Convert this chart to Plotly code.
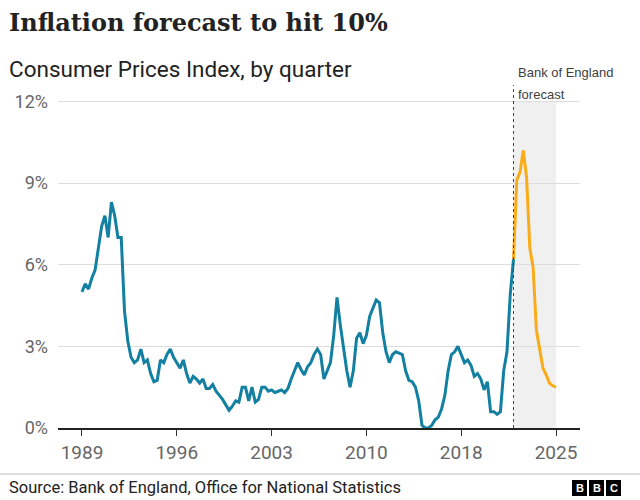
import plotly.graph_objects as go

# ---------------- data ----------------
start_year = 1989  # first quarter = 1989 Q1
cpi_actual = [
    5.0, 5.3, 5.1, 5.5, 5.8, 6.6, 7.4, 7.8, 7.0, 8.3, 7.8, 7.0, 7.0,
    4.3, 3.2, 2.6, 2.4, 2.5, 2.9, 2.4, 2.5, 2.0, 1.7, 1.75, 2.5, 2.4, 2.7, 2.9, 2.6, 2.4, 2.2, 2.5,
    2.0, 1.65, 1.9, 1.8, 1.65, 1.8, 1.45, 1.45, 1.6, 1.35, 1.2, 1.05, 0.85, 0.65, 0.8, 1.0,
    0.95, 1.5, 1.5, 1.0, 1.5, 0.95, 1.05, 1.5, 1.5, 1.35, 1.4, 1.3,
    1.35, 1.4, 1.3, 1.45,
    1.8, 2.1, 2.4, 2.15, 1.95, 2.25, 2.4, 2.7, 2.9, 2.7, 1.8, 2.1,
    2.4, 3.4, 4.8, 3.8, 2.9, 2.1, 1.5, 2.1, 3.3, 3.5, 3.1, 3.4, 4.1, 4.4, 4.7, 4.6,
    3.5, 2.8, 2.4, 2.7, 2.8, 2.75, 2.7, 2.1, 1.75, 1.7, 1.5, 1.0,
    0.1, 0.0, 0.0, 0.1, 0.3, 0.4, 0.7, 1.2, 2.1, 2.7, 2.8, 3.0,
    2.7, 2.4, 2.5, 2.3, 1.9, 2.0, 1.8, 1.4, 1.7, 0.6, 0.6, 0.5,
    0.6, 2.1, 2.8, 4.9, 6.2,
]
cpi_forecast = [6.2, 9.1, 9.4, 10.2, 9.2, 6.6, 5.9, 3.6, 2.9, 2.2, 1.95, 1.65, 1.55, 1.5]

x_tick_labels = ["1989", "1996", "2003", "2010", "2018", "2025"]
x_tick_quarters = [0, 29, 58, 87, 116, 145]
y_tick_values = [0, 3, 6, 9, 12]
y_tick_labels = ["0%", "3%", "6%", "9%", "12%"]

title_text = "Inflation forecast to hit 10%"
subtitle_text = "Consumer Prices Index, by quarter"
source_text = "Source: Bank of England, Office for National Statistics"

# quarter indices
q_actual = list(range(len(cpi_actual)))
q_forecast = list(range(len(cpi_actual) - 1, len(cpi_actual) - 1 + len(cpi_forecast)))
forecast_start = q_forecast[0]
forecast_end = q_forecast[-1]

# ---------------- layout geometry ----------------
W, H = 640, 500
L, R, T, B = 58, 60, 85, 72
PW, PH = W - L - R, H - T - B


def px(xp):
    return (xp - L) / PW


def py(yp):
    return (H - B - yp) / PH


BLUE = "#1380A1"
ORANGE = "#FAAB18"
SANS = "Roboto, Arial, sans-serif"

fig = go.Figure()
fig.add_trace(go.Scatter(x=q_actual, y=cpi_actual, mode="lines",
                         line=dict(color=BLUE, width=3), hoverinfo="skip"))
fig.add_trace(go.Scatter(x=q_forecast, y=cpi_forecast, mode="lines",
                         line=dict(color=ORANGE, width=3), hoverinfo="skip"))

shapes = [
    dict(type="rect", xref="x", yref="y", x0=forecast_start, x1=forecast_end, y0=0, y1=12,
         fillcolor="#f0f0f0", line=dict(width=0), layer="below"),
    dict(type="line", xref="x", yref="paper", x0=forecast_start, x1=forecast_start, y0=0, y1=1,
         line=dict(color="#444444", width=1, dash="3px,3px"), layer="above"),
    dict(type="line", xref="paper", yref="paper", x0=px(0), x1=px(W), y0=py(474), y1=py(474),
         line=dict(color="#bbbbbb", width=1)),
]

annotations = [
    dict(text=title_text, x=px(7), y=py(23), xref="paper", yref="paper", xanchor="left",
         yanchor="middle", showarrow=False,
         font=dict(family="DejaVu Serif", size=24, color="#222222", weight="bold")),
    dict(text=subtitle_text, x=px(7), y=py(69), xref="paper", yref="paper", xanchor="left",
         yanchor="middle", showarrow=False,
         font=dict(family=SANS, size=22.5, color="#222222")),
    dict(text="Bank of England", x=px(516), y=py(73), xref="paper", yref="paper",
         xanchor="left", yanchor="middle", showarrow=False,
         font=dict(family="Liberation Sans, Arial", size=13, color="#404040")),
    dict(text="forecast", x=px(516), y=py(94), xref="paper", yref="paper",
         xanchor="left", yanchor="middle", showarrow=False,
         font=dict(family="Liberation Sans, Arial", size=13, color="#404040")),
    dict(text=source_text, x=px(7), y=py(488), xref="paper", yref="paper", xanchor="left",
         yanchor="middle", showarrow=False,
         font=dict(family=SANS, size=16.5, color="#222222")),
]

# BBC logo blocks
for i, letter in enumerate(["B", "B", "C"]):
    x0 = 572 + i * 17
    shapes.append(dict(type="rect", xref="paper", yref="paper", x0=px(x0), x1=px(x0 + 15),
                       y0=py(496), y1=py(480), fillcolor="#000000", line=dict(width=0)))
    annotations.append(dict(text="<b>%s</b>" % letter, x=px(x0 + 7.5), y=py(488), xref="paper",
                            yref="paper", xanchor="center", yanchor="middle", showarrow=False,
                            font=dict(family="Liberation Sans, Arial", size=11, color="#ffffff")))

fig.update_layout(
    width=W, height=H,
    margin=dict(l=L, r=R, t=T, b=B, pad=0),
    paper_bgcolor="white", plot_bgcolor="white",
    showlegend=False,
    shapes=shapes, annotations=annotations,
    xaxis=dict(range=[-7.34, 152.34], tickvals=x_tick_quarters, ticktext=x_tick_labels,
               showgrid=False, zeroline=False, showline=True, linecolor="#222222", linewidth=1.5,
               ticks="outside", ticklen=6, tickcolor="#333333", tickwidth=1,
               tickfont=dict(family=SANS, size=19, color="#666666"), fixedrange=True),
    yaxis=dict(range=[0, 12.6], tickvals=y_tick_values, ticktext=y_tick_labels,
               showgrid=True, gridcolor="#dddddd", gridwidth=1, zeroline=False, showline=False,
               ticks="", ticklabelstandoff=9,
               tickfont=dict(family=SANS, size=18, color="#666666"), fixedrange=True),
)

fig.write_html("out.html", config={"displayModeBar": False},
               post_script="document.body.style.margin='0';document.body.style.padding='0';")
